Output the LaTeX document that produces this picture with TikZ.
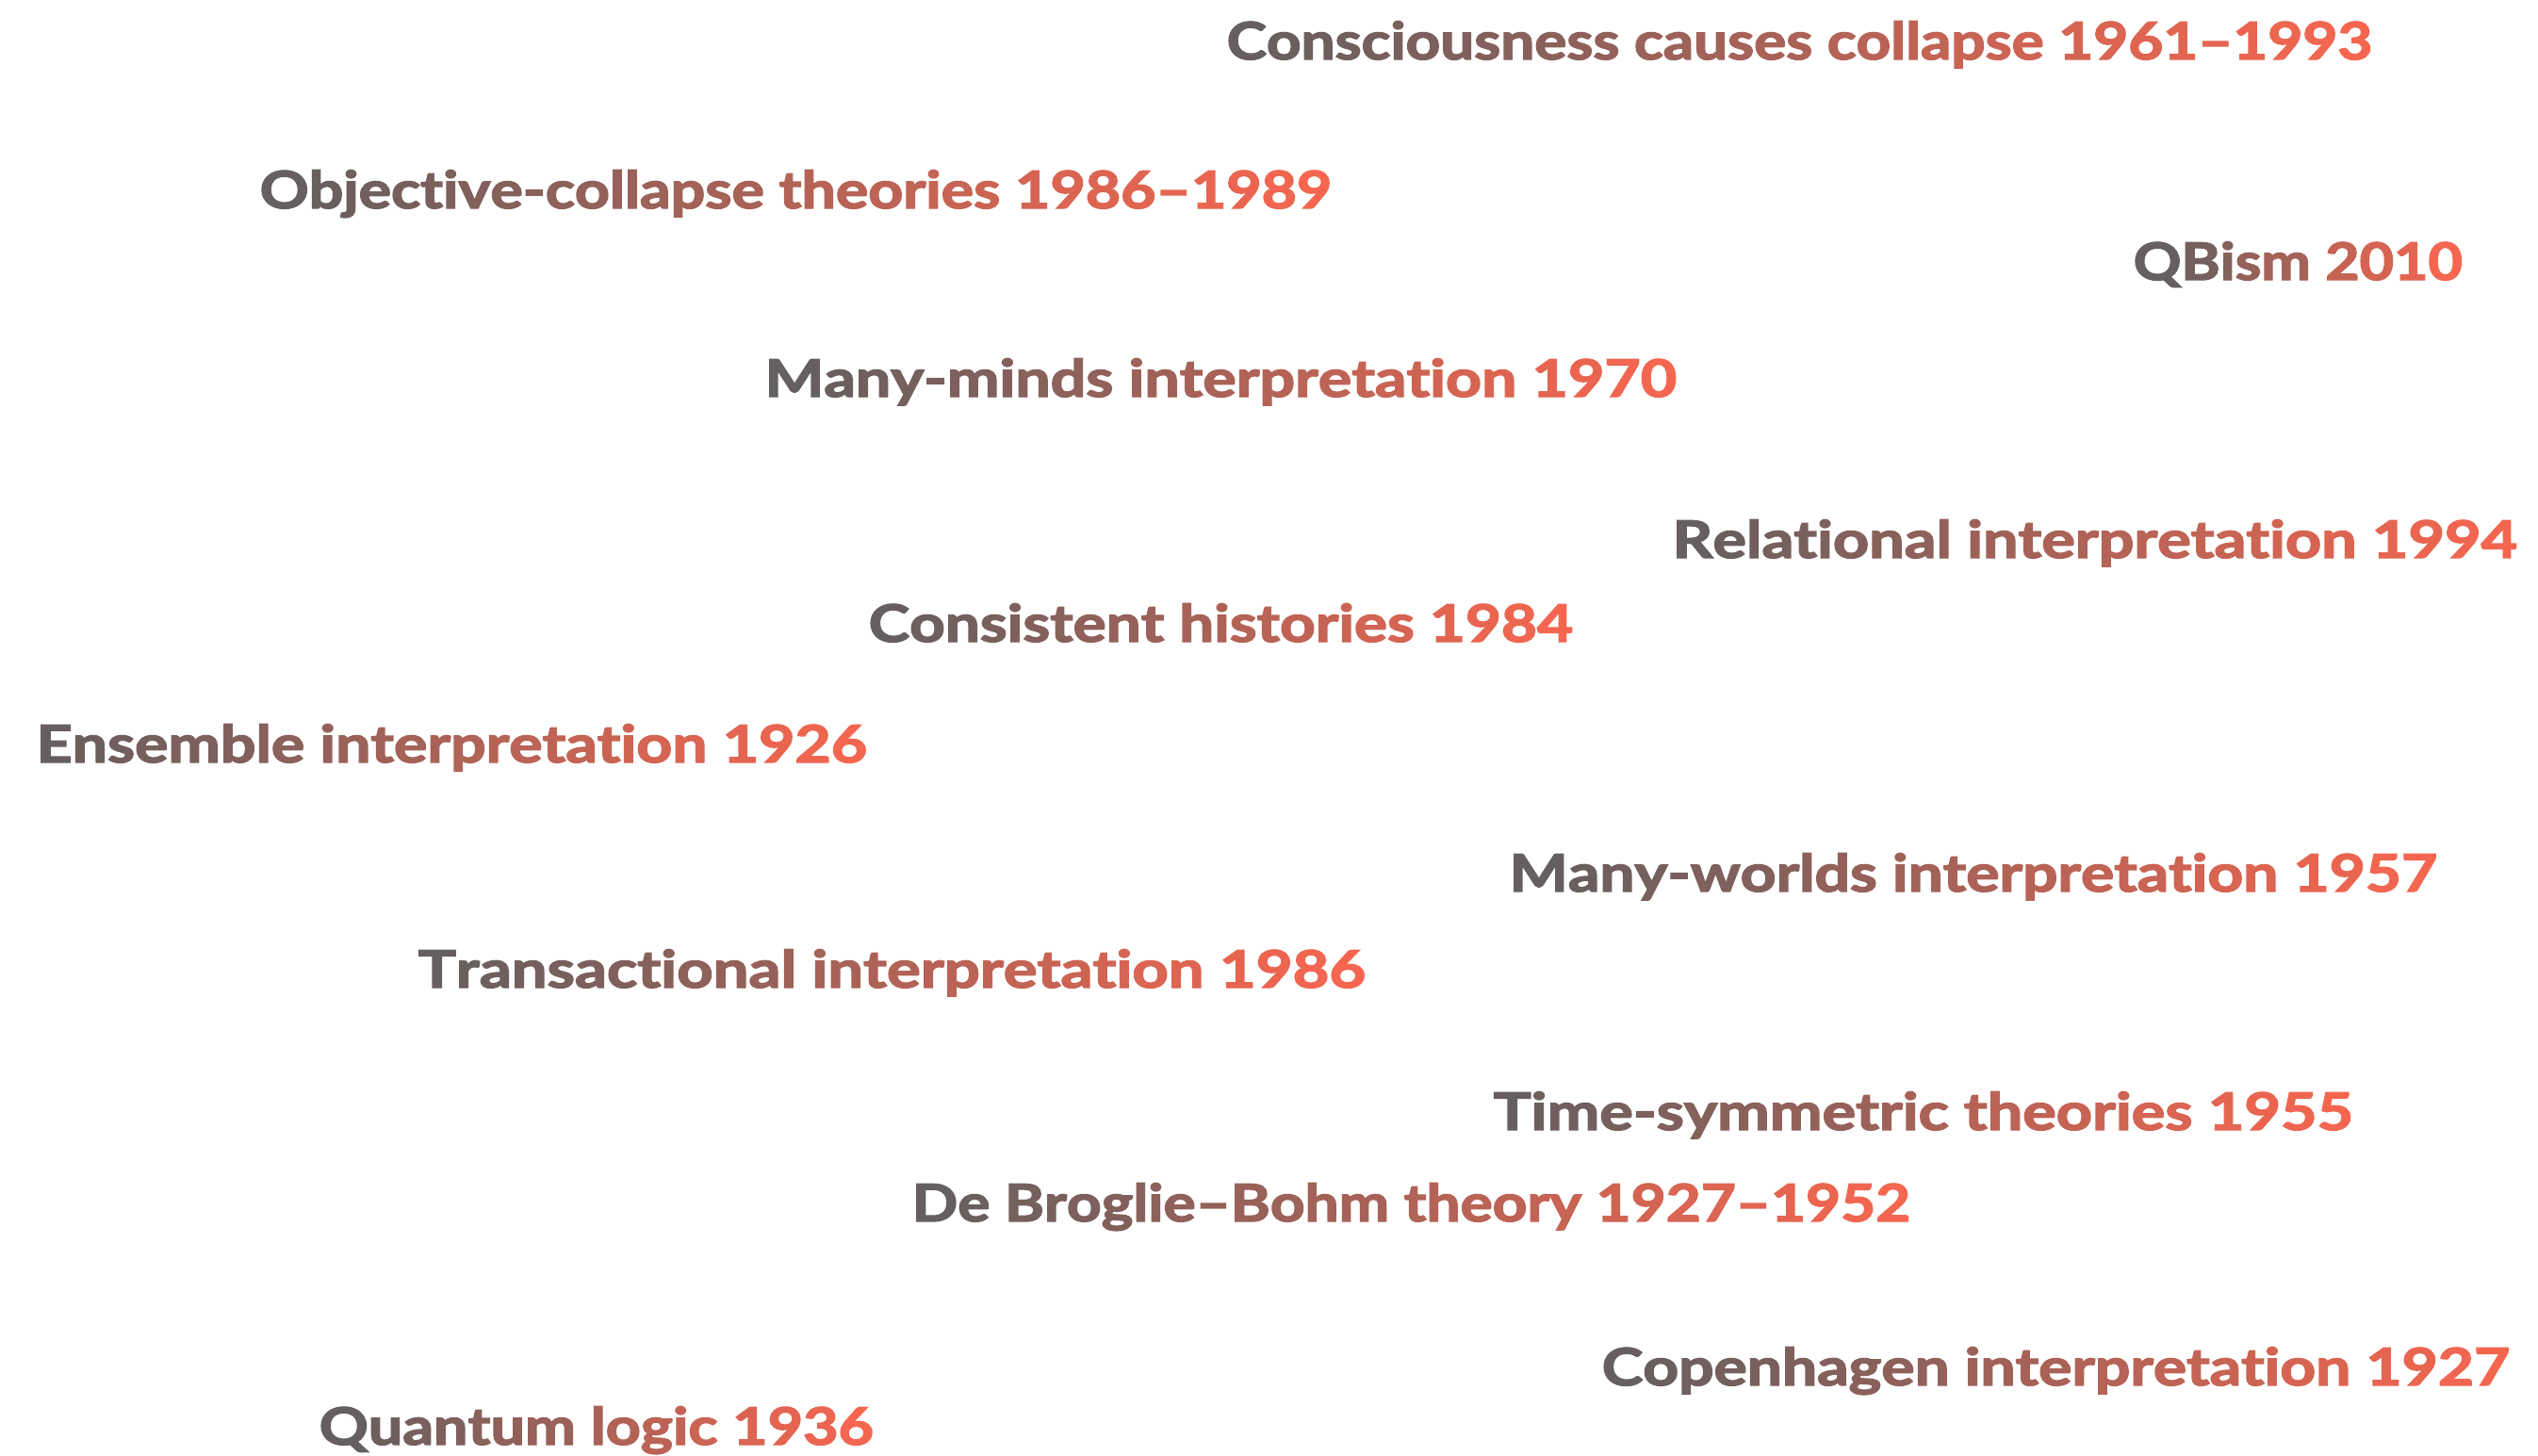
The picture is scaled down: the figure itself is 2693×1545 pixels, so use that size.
\documentclass[tikz,border=0pt]{standalone}
\usepackage{fontspec}
\setmainfont{Lato}[BoldFeatures={FakeBold=2.5}]
\definecolor{gL}{HTML}{665F5F}
\definecolor{gR}{HTML}{F4664F}
\ExplSyntaxOn
\int_new:N \l_gt_n_int
\int_new:N \l_gt_i_int
\seq_new:N \l_gt_words_seq
\bool_new:N \l_gt_first_bool
\box_new:N \l_gt_box
\cs_new_protected:Npn \gt_char:n #1
 {
  { \color{gR!\int_eval:n{100*\l_gt_i_int/\l_gt_n_int}!gL}#1 }
  \int_incr:N \l_gt_i_int
 }
\NewDocumentCommand\gtext{m}
 {
  \seq_set_split:Nnn \l_gt_words_seq {~} {#1}
  \int_zero:N \l_gt_n_int
  \seq_map_inline:Nn \l_gt_words_seq { \int_add:Nn \l_gt_n_int { \tl_count:n {##1} + 1 } }
  \int_sub:Nn \l_gt_n_int {2}
  \int_zero:N \l_gt_i_int
  \bool_set_true:N \l_gt_first_bool
  \seq_map_inline:Nn \l_gt_words_seq
   {
    \bool_if:NF \l_gt_first_bool { \c_space_tl \int_incr:N \l_gt_i_int }
    \bool_set_false:N \l_gt_first_bool
    \tl_map_inline:nn {##1} { \gt_char:n {####1} }
   }
 }
\NewDocumentCommand\fitw{mm}
 {
  \hbox_set:Nn \l_gt_box { \gtext{#2} }
  \box_scale:Nnn \l_gt_box { \fp_eval:n { (#1 cm / 100) / \box_wd:N \l_gt_box } } {1}
  \box_use:N \l_gt_box
 }
\ExplSyntaxOff
\tikzset{lbl/.style={anchor=base west, inner sep=0pt, font=\bfseries\fontsize{15.6}{19}\selectfont}}
\begin{document}
\begin{tikzpicture}[x=0.01cm,y=-0.01cm]
\useasboundingbox (0,0) rectangle (2693,1545);
\node[lbl] (cons) at (1301,63) {\fitw{1215}{Consciousness causes collapse 1961–1993}};
\node[lbl] (obj) at (275,221) {\fitw{1137}{Objective-collapse theories 1986–1989}};
\node[lbl] (qb) at (2263,297) {\fitw{349}{QBism 2010}};
\node[lbl] (mm) at (811,421) {\fitw{967}{Many-minds interpretation 1970}};
\node[lbl] (rel) at (1774,592) {\fitw{896}{Relational interpretation 1994}};
\node[lbl] (ch) at (921,681) {\fitw{747}{Consistent histories 1984}};
\node[lbl] (ens) at (38,809) {\fitw{881}{Ensemble interpretation 1926}};
\node[lbl] (mw) at (1601,946) {\fitw{984}{Many-worlds interpretation 1957}};
\node[lbl] (tr) at (443,1048) {\fitw{1005}{Transactional interpretation 1986}};
\node[lbl] (ts) at (1584,1199) {\fitw{912}{Time-symmetric theories 1955}};
\node[lbl] (dbb) at (967,1296) {\fitw{1059}{De Broglie–Bohm theory 1927–1952}};
\node[lbl] (cop) at (1699,1470) {\fitw{963}{Copenhagen interpretation 1927}};
\node[lbl] (ql) at (338,1533) {\fitw{588}{Quantum logic 1936}};
\end{tikzpicture}
\end{document}
